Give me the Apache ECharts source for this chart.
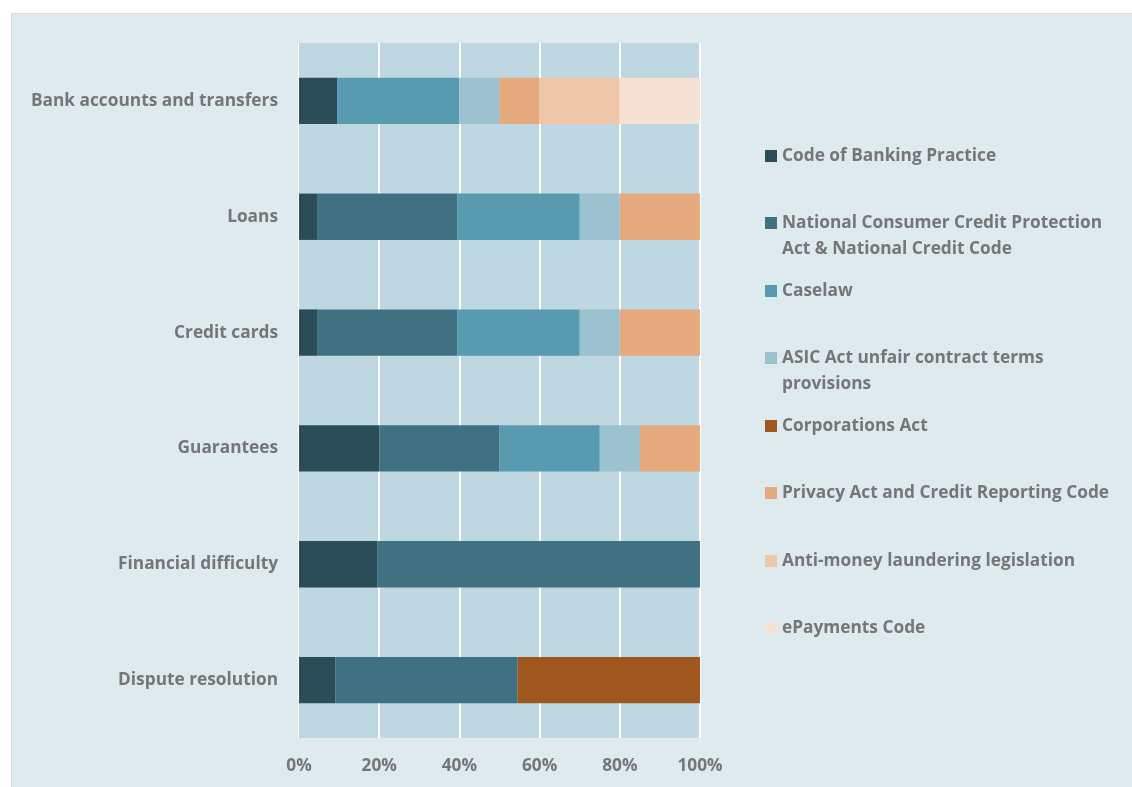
<!DOCTYPE html>
<html>
<head>
<meta charset="utf-8">
<script src="https://cdn.jsdelivr.net/npm/echarts@6/dist/echarts.min.js"></script>
<style>
  html, body { margin: 0; padding: 0; background: #fff; }
  #wrap {
    position: absolute; left: 11px; top: 13px; right: 0; bottom: 0;
    background: #deeaee; border-top: 1px solid #d9d9d9; border-left: 1px solid #d9d9d9;
  }
  #chart { width: 1120px; height: 773px; }
</style>
</head>
<body>
<div id="wrap"><div id="chart"></div></div>
<script>
// categories, top to bottom
var categories = ['Bank accounts and transfers', 'Loans', 'Credit cards', 'Guarantees', 'Financial difficulty', 'Dispute resolution']
var xTicks = [0, 20, 40, 60, 80, 100]

// share of each source per category (%)
var codeBanking   = [9.5, 4.5, 4.5, 20, 19.5, 9.1]
var nccp          = [0, 35, 35, 30, 80.5, 45.4]
var caselaw       = [30.5, 30.5, 30.5, 25, 0, 0]
var asicUnfair    = [10, 10, 10, 10, 0, 0]
var corporations  = [0, 0, 0, 0, 0, 45.5]
var privacy       = [10, 20, 20, 15, 0, 0]
var antiMoney     = [20, 0, 0, 0, 0, 0]
var ePayments     = [20, 0, 0, 0, 0, 0]

var seriesNames = ['Code of Banking Practice', 'National Consumer Credit Protection Act & National Credit Code',
  'Caselaw', 'ASIC Act unfair contract terms provisions', 'Corporations Act',
  'Privacy Act and Credit Reporting Code', 'Anti-money laundering legislation', 'ePayments Code']
var seriesData = [codeBanking, nccp, caselaw, asicUnfair, corporations, privacy, antiMoney, ePayments]
var colors = ['#2b4d58', '#3f7182', '#589bb0', '#9cc2d0', '#a0561f', '#e6aa7f', '#eec6a8', '#f6e2d5']
var legendLabels = ['Code of Banking Practice', 'National Consumer Credit Protection\nAct & National Credit Code',
  'Caselaw', 'ASIC Act unfair contract terms\nprovisions', 'Corporations Act',
  'Privacy Act and Credit Reporting Code', 'Anti-money laundering legislation', 'ePayments Code']
var legendTops = [124, 191, 259, 326, 394, 461, 529, 596]

var textColor = '#767676'
var font = 'Open Sans'
var fontSize = 17.3

var chart = echarts.init(document.getElementById('chart'))

var legends = seriesNames.map(function (name, i) {
  var twoLines = legendLabels[i].indexOf('\n') >= 0
  return {
    left: 748,
    top: legendTops[i],
    orient: 'vertical',
    data: [name],
    selectedMode: false,
    itemWidth: 12,
    itemHeight: twoLines ? 52 : 12,
    // square aligned with first text line
    icon: twoLines ? 'path://M0,7h12v12h-12z M0,0h0.01v0.01h-0.01z M0,52h0.01v0.01h-0.01z' : 'rect',
    formatter: function () { return legendLabels[i] },
    textStyle: { color: textColor, fontFamily: font, fontWeight: 'bold', fontSize: fontSize, lineHeight: 26 }
  }
})

chart.setOption({
  animation: false,
  color: colors,
  legend: legends,
  grid: {
    left: 287, top: 29, width: 401, height: 695,
    show: true, backgroundColor: '#bed7e0', borderWidth: 0
  },
  xAxis: {
    type: 'value',
    min: 0, max: 100, interval: 20,
    axisLine: { show: false },
    axisTick: { show: false },
    splitLine: { show: true, lineStyle: { color: '#ffffff', width: 2 } },
    axisLabel: {
      margin: 20,
      color: textColor, fontFamily: font, fontWeight: 'bold', fontSize: fontSize,
      formatter: function (v) { return xTicks.indexOf(v) >= 0 ? v + '%' : '' }
    }
  },
  yAxis: {
    type: 'category',
    inverse: true,
    data: categories,
    axisLine: { show: true, lineStyle: { color: '#d0d0d0', width: 1 } },
    axisTick: { show: false },
    axisLabel: { margin: 21, color: textColor, fontFamily: font, fontWeight: 'bold', fontSize: fontSize }
  },
  series: seriesNames.map(function (name, i) {
    return {
      name: name,
      type: 'bar',
      stack: 'total',
      barWidth: '40%',
      data: seriesData[i],
      itemStyle: { color: colors[i] }
    }
  })
})
</script>
</body>
</html>
